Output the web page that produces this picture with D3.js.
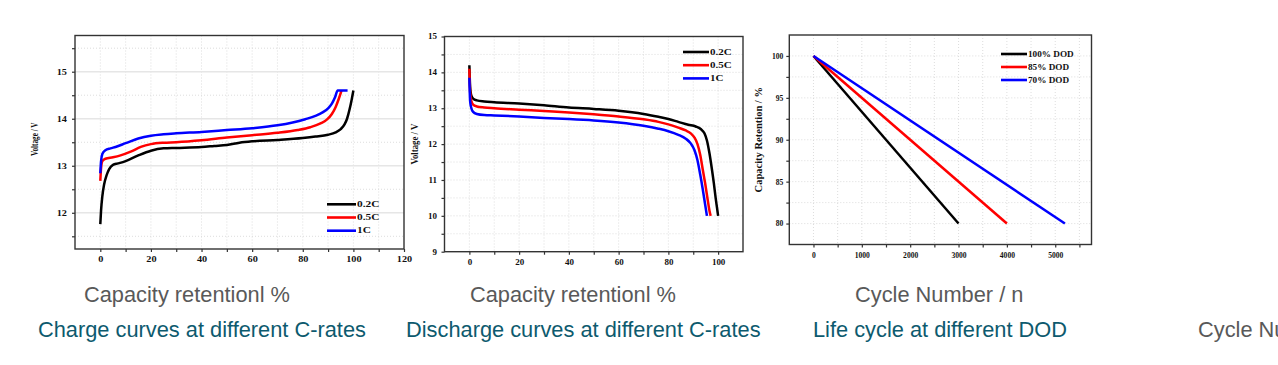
<!DOCTYPE html>
<html>
<head>
<meta charset="utf-8">
<script src="https://cdn.jsdelivr.net/npm/d3@7"></script>
<style>
  html, body { margin: 0; padding: 0; background: #ffffff; overflow: hidden; }
  svg { display: block; }
</style>
</head>
<body>
<svg id="chart" width="1278" height="365"></svg>
<script>
// ---------------- DATA ----------------
const seriesNamesC = ["0.2C", "0.5C", "1C"];
const seriesNamesDOD = ["100% DOD", "85% DOD", "70% DOD"];
const seriesColors = ["#000000", "#ff0000", "#0000ff"];

// Charge curves: [capacity %, voltage V]
const charge02 = [[0,11.76],[0.3,12.05],[0.8,12.35],[1.5,12.6],[2.5,12.8],[3.5,12.93],[5,13.02],[7,13.05],[10,13.1],[15,13.22],[20,13.32],[25,13.37],[30,13.38],[40,13.4],[45,13.42],[50,13.44],[55,13.49],[60,13.52],[70,13.55],[80,13.59],[85,13.62],[90,13.66],[93,13.71],[95,13.78],[96.5,13.88],[97.5,14.0],[98.5,14.2],[99.3,14.4],[100,14.6]];
const charge05 = [[0,12.68],[0.3,12.95],[0.8,13.1],[2,13.15],[5,13.18],[8,13.22],[12,13.3],[16,13.4],[20,13.46],[25,13.49],[30,13.5],[40,13.54],[50,13.6],[60,13.65],[70,13.7],[78,13.76],[83,13.82],[87,13.9],[89.5,13.98],[91.5,14.1],[93,14.25],[94.2,14.42],[95.3,14.6]];
const charge1 = [[0,12.84],[0.3,13.1],[0.8,13.25],[2,13.33],[4,13.37],[6,13.4],[10,13.48],[15,13.58],[20,13.64],[25,13.67],[30,13.69],[40,13.72],[50,13.76],[60,13.8],[70,13.86],[76,13.92],[81,13.99],[85,14.06],[88,14.14],[90,14.22],[91.5,14.32],[92.7,14.45],[93.8,14.6],[97.7,14.6]];

// Discharge curves: [capacity %, voltage V]
const discharge02 = [[0,14.2],[0.3,13.6],[0.8,13.35],[1.5,13.27],[3,13.22],[6,13.19],[10,13.17],[20,13.13],[30,13.08],[40,13.02],[50,12.98],[60,12.93],[70,12.84],[76,12.76],[80,12.7],[84,12.62],[88,12.54],[91,12.49],[93,12.42],[94.5,12.3],[95.5,12.1],[96.5,11.75],[97.5,11.3],[98.3,10.9],[99,10.5],[99.6,10.2],[100,10.0]];
const discharge05 = [[0,14.1],[0.3,13.45],[0.8,13.2],[1.5,13.1],[3,13.05],[6,13.02],[10,13.0],[20,12.96],[30,12.92],[40,12.88],[50,12.83],[60,12.77],[70,12.69],[76,12.62],[80,12.55],[84,12.46],[87,12.38],[89,12.3],[90.5,12.18],[91.7,12.0],[92.8,11.7],[93.8,11.3],[94.8,10.9],[95.8,10.45],[96.5,10.15],[97,10.0]];
const discharge1 = [[0,13.85],[0.3,13.2],[0.8,13.0],[1.5,12.9],[3,12.84],[6,12.81],[10,12.8],[20,12.77],[30,12.73],[40,12.7],[50,12.66],[60,12.6],[70,12.51],[76,12.43],[80,12.36],[84,12.26],[87,12.15],[89,12.02],[90.5,11.83],[91.7,11.55],[92.8,11.15],[93.8,10.75],[94.7,10.35],[95.5,10.0]];

// Life cycle: [cycle number, capacity retention %]
const life100 = [[0,100],[3000,80]];
const life85 = [[0,100],[4000,80]];
const life70 = [[0,100],[5200,80]];

// Tick values
const chargeXTicks = [0,20,40,60,80,100,120];
const chargeXMinor = [-10,10,30,50,70,90,110];
const chargeYTicks = [12,13,14,15];
const chargeYMinor = [11.5,12.5,13.5,14.5,15.5];
const dischargeXTicks = [0,20,40,60,80,100];
const dischargeXMinor = [10,30,50,70,90];
const dischargeYTicks = [9,10,11,12,13,14,15];
const dischargeYMinor = [9.5,10.5,11.5,12.5,13.5,14.5];
const lifeXTicks = [0,1000,2000,3000,4000,5000];
const lifeXMinor = [500,1500,2500,3500,4500,5500];
const lifeYTicks = [80,85,90,95,100];
const lifeYMinor = [77.5,82.5,87.5,92.5,97.5,102.5];

// Texts
const xAxisCaptions = ["Capacity retentionl %", "Capacity retentionl %", "Cycle Number / n"];
const chartTitles = ["Charge curves at different C-rates", "Discharge curves at different C-rates", "Life cycle at different DOD"];
const extraCaption = "Cycle Number / n";

// ---------------- DRAW ----------------
const svg = d3.select("#chart");
const serif = "'Liberation Serif','Times New Roman',serif";
const sans = "'Liberation Sans',Arial,sans-serif";

function panel(cfg) {
  const g = svg.append("g");
  const x = d3.scaleLinear().domain(cfg.xDomain).range(cfg.xRange);
  const y = d3.scaleLinear().domain(cfg.yDomain).range(cfg.yRange);
  const [x0, x1] = cfg.xRange, [y1, y0] = cfg.yRange;

  // grid
  const grid = g.append("g");
  grid.selectAll(".vg").data(cfg.xTicks.concat(cfg.xMinor).filter(v => x(v) > x0 + 1 && x(v) < x1 - 1))
    .join("line").attr("x1", d => x(d)).attr("x2", d => x(d)).attr("y1", y0).attr("y2", y1)
    .attr("stroke", "#d4d4d4").attr("stroke-width", 0.8).attr("stroke-dasharray", "1,2");
  grid.selectAll(".hg").data(cfg.yMinor.filter(v => y(v) > y0 + 1 && y(v) < y1 - 1))
    .join("line").attr("x1", x0).attr("x2", x1).attr("y1", d => y(d)).attr("y2", d => y(d))
    .attr("stroke", "#d4d4d4").attr("stroke-width", 0.8).attr("stroke-dasharray", "1,2");
  grid.selectAll(".hm").data(cfg.yTicks.filter(v => y(v) > y0 + 1 && y(v) < y1 - 1))
    .join("line").attr("x1", x0).attr("x2", x1).attr("y1", d => y(d)).attr("y2", d => y(d))
    .attr("stroke", cfg.majorSolid ? "#e6e6e6" : "#d4d4d4").attr("stroke-width", cfg.majorSolid ? 1.4 : 0.8)
    .attr("stroke-dasharray", cfg.majorSolid ? null : "1,2");

  // axes
  const sx = cfg.sx;
  const bottom = g.append("g").attr("transform", `translate(0,${y1})`)
    .call(d3.axisBottom(x).tickValues(cfg.xTicks).tickSize(3).tickPadding(5).tickFormat(d3.format("d")));
  g.append("g").attr("transform", `translate(0,${y1})`)
    .call(d3.axisBottom(x).tickValues(cfg.xMinor.filter(v => x(v) > x0 + 1 && x(v) < x1 - 1)).tickSize(3).tickFormat(""));
  const left = g.append("g").attr("transform", `translate(${x0},0)`)
    .call(d3.axisLeft(y).tickValues(cfg.yTicks).tickSize(3).tickPadding(3).tickFormat(d3.format("d")));
  g.append("g").attr("transform", `translate(${x0},0)`)
    .call(d3.axisLeft(y).tickValues(cfg.yMinor.filter(v => y(v) > y0 + 1 && y(v) < y1 - 1)).tickSize(3).tickFormat(""));
  g.selectAll(".domain").remove();
  g.selectAll(".tick line").attr("stroke", "#333").attr("stroke-width", 1.2);
  [bottom, left].forEach(a => a.selectAll("text")
    .attr("font-family", serif).attr("font-weight", "bold").attr("font-size", cfg.tickFont).attr("fill", "#111"));
  bottom.selectAll("text").attr("transform", `scale(${sx},1)`);
  left.selectAll("text").attr("transform", `scale(${sx},1)`);

  // frame
  g.append("rect").attr("x", x0).attr("y", y0).attr("width", x1 - x0).attr("height", y1 - y0)
    .attr("fill", "none").attr("stroke", "#333").attr("stroke-width", 1.4);

  // axis title (rotated)
  g.append("text").attr("transform", `translate(${cfg.yTitleX},${(y0 + y1) / 2 + cfg.yTitleDy}) scale(${sx},1) rotate(-90)`)
    .attr("text-anchor", "middle").attr("font-family", serif).attr("font-weight", "bold")
    .attr("font-size", cfg.yTitleFont).attr("fill", "#111").text(cfg.yTitle);

  // lines
  const line = d3.line().x(d => x(d[0])).y(d => y(d[1])).curve(cfg.curve);
  g.selectAll(".series").data(cfg.series).join("path")
    .attr("d", d => line(d)).attr("fill", "none")
    .attr("stroke", (d, i) => seriesColors[i]).attr("stroke-width", 2.5)
    .attr("stroke-linejoin", "round").attr("stroke-linecap", "butt");

  // legend
  const lg = g.append("g");
  cfg.legendNames.forEach((name, i) => {
    const ly = cfg.legendY + i * cfg.legendStep;
    lg.append("line").attr("x1", cfg.legendX).attr("x2", cfg.legendX + cfg.legendLen)
      .attr("y1", ly).attr("y2", ly).attr("stroke", seriesColors[i]).attr("stroke-width", 2.6);
    lg.append("text").attr("transform", `translate(${cfg.legendX + cfg.legendLen + 1},${ly + cfg.legendFont * 0.33}) scale(${sx},1)`)
      .attr("font-family", serif).attr("font-weight", "bold").attr("font-size", cfg.legendFont)
      .attr("fill", "#111").text(name);
  });
}

panel({
  xDomain: [-10, 120], xRange: [75, 404],
  yDomain: [11.23, 15.77], yRange: [249, 35.5],
  xTicks: chargeXTicks, xMinor: chargeXMinor, yTicks: chargeYTicks, yMinor: chargeYMinor,
  majorSolid: true, sx: 1.35, tickFont: 7.6,
  yTitle: "Voltage / V", yTitleX: 38, yTitleDy: -3, yTitleFont: 7.2,
  series: [charge02, charge05, charge1], curve: d3.curveMonotoneX,
  legendNames: seriesNamesC, legendX: 327, legendLen: 29, legendY: 204.3, legendStep: 13.2, legendFont: 8.4
});

panel({
  xDomain: [-10, 110], xRange: [444.5, 743],
  yDomain: [9, 15], yRange: [251.7, 36.5],
  xTicks: dischargeXTicks, xMinor: dischargeXMinor, yTicks: dischargeYTicks, yMinor: dischargeYMinor,
  majorSolid: false, sx: 1.25, tickFont: 7.2,
  yTitle: "Voltage / V", yTitleX: 418, yTitleDy: 0, yTitleFont: 8.8,
  series: [discharge02, discharge05, discharge1], curve: d3.curveMonotoneX,
  legendNames: seriesNamesC, legendX: 683, legendLen: 26, legendY: 52, legendStep: 13.2, legendFont: 8.8
});

panel({
  xDomain: [-500, 5750], xRange: [789.3, 1091.5],
  yDomain: [77.5, 102.5], yRange: [244.5, 35],
  xTicks: lifeXTicks, xMinor: lifeXMinor, yTicks: lifeYTicks, yMinor: lifeYMinor,
  majorSolid: false, sx: 1.0, tickFont: 7.6,
  yTitle: "Capacity Retention / %", yTitleX: 762, yTitleDy: 0, yTitleFont: 10.5,
  series: [life100, life85, life70], curve: d3.curveLinear,
  legendNames: seriesNamesDOD, legendX: 1001, legendLen: 26, legendY: 54, legendStep: 13, legendFont: 9.2
});

// captions & titles
const captionX = [84, 470, 855];
const titleX = [38, 406, 813];
svg.selectAll(".cap").data(xAxisCaptions).join("text")
  .attr("x", (d, i) => captionX[i]).attr("y", 302)
  .attr("font-family", sans).attr("font-size", 21.8).attr("fill", "#595959").text(d => d);
svg.selectAll(".ttl").data(chartTitles).join("text")
  .attr("x", (d, i) => titleX[i]).attr("y", 337)
  .attr("font-family", sans).attr("font-size", 21.8).attr("fill", "#0d5a6e").text(d => d);
// caption of a fourth panel that lies beyond the right edge of the window (clipped, as in the reference)
svg.append("text").attr("x", 1198).attr("y", 337)
  .attr("font-family", sans).attr("font-size", 21.8).attr("fill", "#595959").text(extraCaption);
</script>
</body>
</html>
